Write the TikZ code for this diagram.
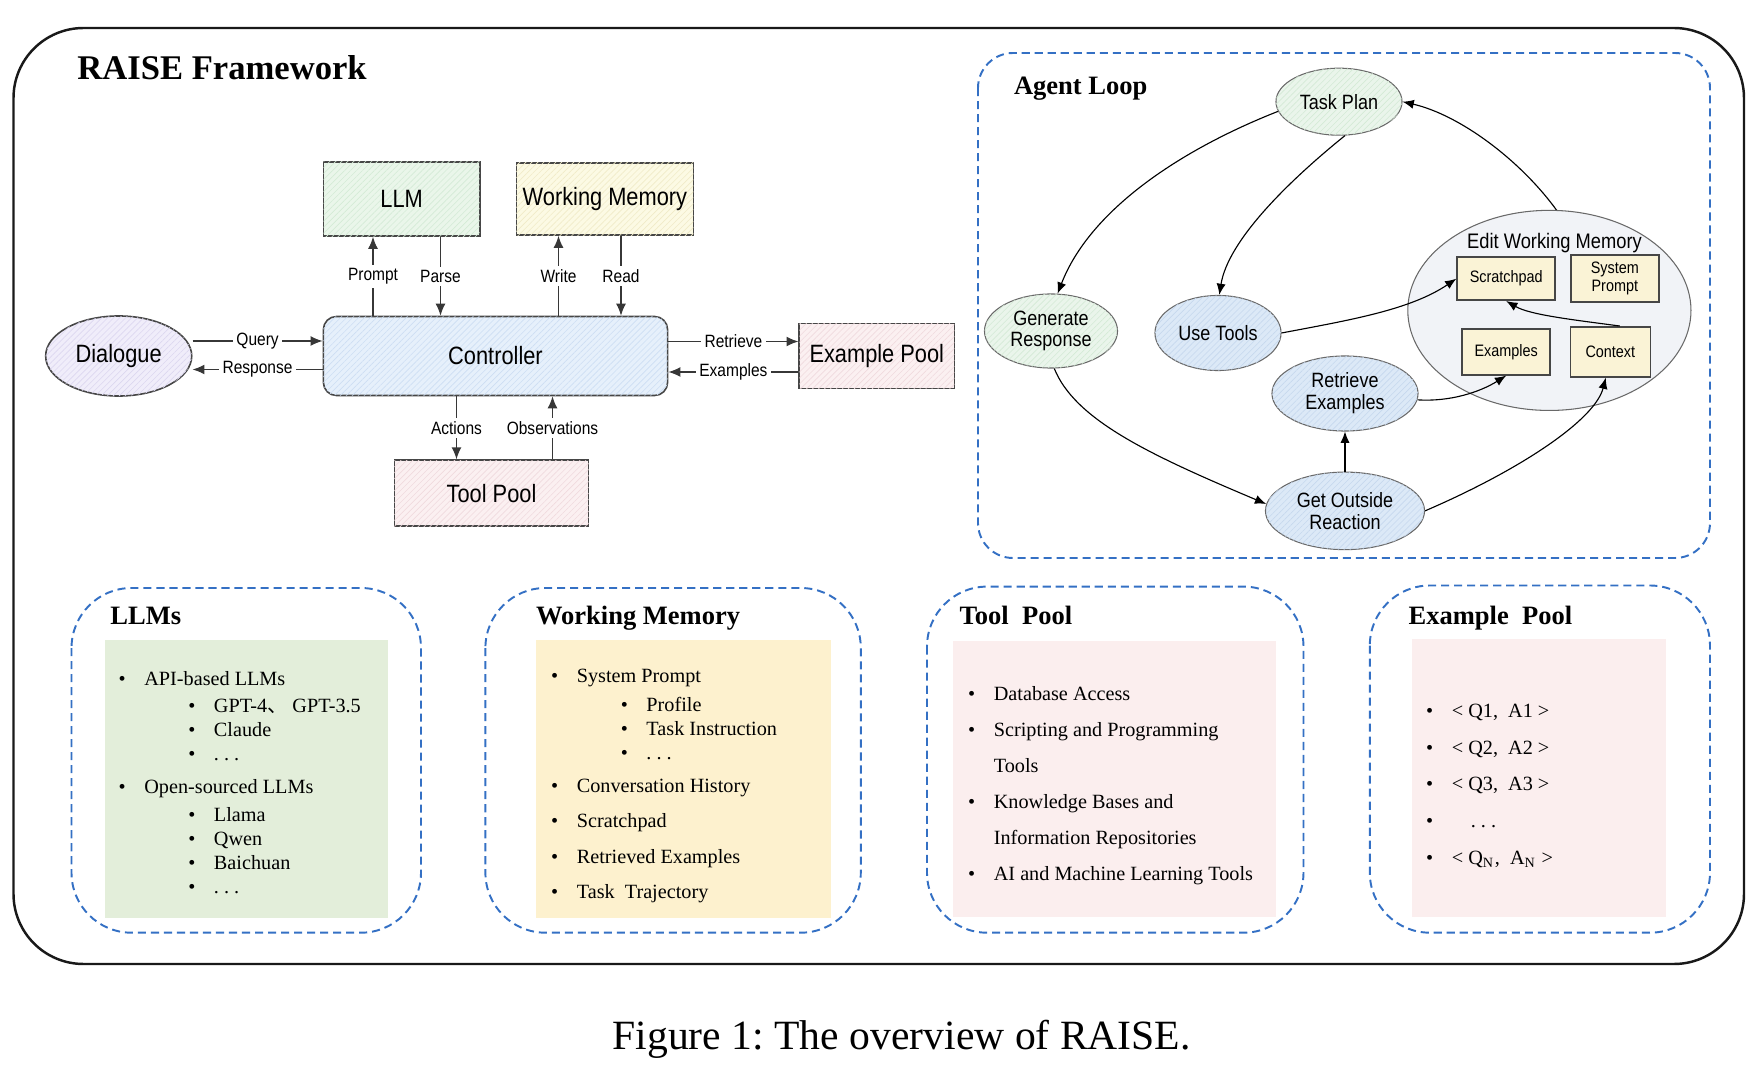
\documentclass[tikz,border=0pt]{standalone}
\usepackage{fontspec}
\setmainfont{Liberation Serif}
\setsansfont{Liberation Sans}[FakeStretch=0.87]
\newfontfamily\cjk{Noto Sans CJK SC}
\usepackage{tikz}
\usetikzlibrary{shapes.geometric, positioning, arrows.meta, patterns.meta}

\definecolor{dashblue}{RGB}{52,112,196}
\definecolor{boxline}{RGB}{70,70,70}
\definecolor{flowline}{RGB}{55,55,55}
\definecolor{llmfill}{RGB}{234,246,234}
\definecolor{llmhatch}{RGB}{212,235,214}
\definecolor{wmfill}{RGB}{252,250,228}
\definecolor{wmhatch}{RGB}{240,235,200}
\definecolor{ctrlfill}{RGB}{230,240,251}
\definecolor{ctrlhatch}{RGB}{205,222,243}
\definecolor{dlgfill}{RGB}{240,237,250}
\definecolor{dlghatch}{RGB}{220,215,240}
\definecolor{poolfill}{RGB}{251,240,241}
\definecolor{poolhatch}{RGB}{240,218,222}
\definecolor{greenfill}{RGB}{234,245,235}
\definecolor{greenhatch}{RGB}{212,234,214}
\definecolor{bluefill}{RGB}{220,233,247}
\definecolor{bluehatch}{RGB}{198,216,238}
\definecolor{loopline}{RGB}{105,105,105}
\definecolor{ewmfill}{RGB}{241,243,247}
\definecolor{cellfill}{RGB}{250,243,214}
\definecolor{cellline}{RGB}{70,70,70}
\definecolor{llmsbg}{RGB}{227,238,218}
\definecolor{wmbg}{RGB}{253,241,206}
\definecolor{poolbg}{RGB}{251,238,238}

\newcommand{\bitem}{\makebox[7.3pt][l]{\textbullet}}
\newcommand{\sitem}{\hspace*{19.8pt}\bitem}
\frenchspacing

\begin{document}
\begin{tikzpicture}[
        x=0.01cm, y=-0.01cm,
        every node/.style={align=center},
        box/.style={rectangle, draw=boxline, line width=0.45pt, inner sep=0pt, font=\sffamily\fontsize{7.13pt}{8.5pt}\selectfont},
        hatch/.style={postaction={pattern={Lines[angle=45, distance=1.2pt, line width=0.18pt]}, pattern color=#1}},
        tag/.style={fill=white, inner sep=1pt, font=\sffamily\fontsize{5.07pt}{6pt}\selectfont},
        flow/.style={-{Latex[length=3.4pt, width=2.8pt]}, line width=0.35pt, draw=flowline},
        loopnode/.style={ellipse, draw=loopline, line width=0.3pt, inner sep=0pt, font=\sffamily\fontsize{5.89pt}{6.2pt}\selectfont},
        memcell/.style={rectangle, draw=cellline, fill=cellfill, line width=0.45pt, inner sep=0pt, font=\sffamily\fontsize{4.71pt}{5pt}\selectfont},
        loopflow/.style={-{Latex[length=3.2pt, width=2.6pt]}, line width=0.32pt},
        panel/.style={draw=dashblue, line width=0.55pt, dash pattern=on 2.3pt off 1.4pt, rounded corners=0.6cm},
        paneltitle/.style={font=\bfseries\fontsize{7.54pt}{9pt}\selectfont, anchor=base west, inner sep=0pt},
        itemlist/.style={align=left, anchor=north west, inner sep=0pt},
        frame/.style={line width=0.7pt, draw=black!90, rounded corners=0.7cm}
    ]
    \useasboundingbox (0,0) rectangle (1762,1088);
%
    % Outer frame and title
    \draw[frame] (13.5,28) rectangle (1744,964);
    \node[font=\bfseries\fontsize{9.84pt}{12pt}\selectfont, anchor=base west, inner sep=0pt] (title) at (76.7,79.3) {RAISE Framework};
%
    % Controller and its neighbours
    \node[box, fill=ctrlfill, hatch=ctrlhatch, rounded corners=0.13cm, minimum width=3.44cm, minimum height=0.79cm] (ctrl) at (495.5,356) {Controller};
    \node[box, fill=llmfill, hatch=llmhatch, minimum width=1.56cm, minimum height=0.74cm] (llm) at (401.7,199) {LLM};
    \node[box, fill=wmfill, hatch=wmhatch, minimum width=1.77cm, minimum height=0.72cm, right=0.35cm of llm] (wm) {Working Memory};
    \node[box, ellipse, fill=dlgfill, hatch=dlghatch, minimum width=1.46cm, minimum height=0.8cm, left=1.3cm of ctrl] (dlg) {Dialogue};
    \node[box, fill=poolfill, hatch=poolhatch, minimum width=1.55cm, minimum height=0.65cm, right=1.3cm of ctrl] (expool) {Example Pool};
    \node[box, fill=poolfill, hatch=poolhatch, minimum width=1.94cm, minimum height=0.66cm, below=0.63cm of ctrl, xshift=-0.04cm] (tlpool) {Tool Pool};
%
    % Links to the controller
    \draw[flow] (373,0 |- ctrl.north) -- node[tag]{Prompt} (373,0 |- llm.south);
    \draw[flow] (440.5,0 |- llm.south) -- node[tag]{Parse} (440.5,0 |- ctrl.north);
    \draw[flow] (558.5,0 |- ctrl.north) -- node[tag]{Write} (558.5,0 |- wm.south);
    \draw[flow] (621,0 |- wm.south) -- node[tag]{Read} (621,0 |- ctrl.north);
    \draw[flow] (dlg.east |- 0,341) -- node[tag]{Query} (ctrl.west |- 0,341);
    \draw[flow] (ctrl.west |- 0,369.5) -- node[tag]{Response} (dlg.east |- 0,369.5);
    \draw[flow] (ctrl.east |- 0,341.5) -- node[tag]{Retrieve} (expool.west |- 0,341.5);
    \draw[flow] (expool.west |- 0,372) -- node[tag]{Examples} (ctrl.east |- 0,372);
    \draw[flow] (456.5,0 |- ctrl.south) -- node[tag]{Actions} (456.5,0 |- tlpool.north);
    \draw[flow] (552.5,0 |- tlpool.north) -- node[tag]{Observations} (552.5,0 |- ctrl.south);
%
    % Agent loop
    \draw[panel, rounded corners=0.35cm] (978,53) rectangle (1710,558);
    \node[paneltitle] (looptitle) at (1013.3,95) {Agent Loop};
    \node[loopnode, fill=greenfill, hatch=greenhatch, minimum width=1.26cm, minimum height=0.67cm] (tp) at (1339,101.7) {Task Plan};
    \node[loopnode, fill=greenfill, hatch=greenhatch, minimum width=1.33cm, minimum height=0.74cm] (gr) at (1051,331) {Generate\\Response};
    \node[loopnode, fill=bluefill, hatch=bluehatch, minimum width=1.26cm, minimum height=0.75cm] (ut) at (1218,333) {Use Tools};
    \node[loopnode, fill=bluefill, hatch=bluehatch, minimum width=1.46cm, minimum height=0.75cm] (re) at (1345,393.5) {Retrieve\\Examples};
    \node[loopnode, fill=bluefill, hatch=bluehatch, minimum width=1.59cm, minimum height=0.775cm, below=0.4cm of re] (gor) {Get Outside\\Reaction};
%
    % Edit working memory
    \node[ellipse, draw=loopline, fill=ewmfill, line width=0.3pt, minimum width=2.83cm, minimum height=2.0cm] (editmem) at (1549.4,310.4) {};
    \node[font=\sffamily\fontsize{5.98pt}{7pt}\selectfont, inner sep=0pt] (editlabel) at (1554.5,243.4) {Edit Working Memory};
    \node[memcell, minimum width=0.98cm, minimum height=0.43cm] (scratch) at (1506.2,278.7) {Scratchpad};
    \node[memcell, minimum width=0.88cm, minimum height=0.47cm, right=0.14cm of scratch] (sysprompt) {System\\Prompt};
    \node[memcell, minimum width=0.88cm, minimum height=0.46cm, below=0.27cm of scratch] (exmem) {Examples};
    \node[memcell, minimum width=0.8cm, minimum height=0.5cm, right=0.185cm of exmem] (context) {Context};
%
    % Loop arrows
    \draw[loopflow] (tp.189) .. controls (1180,150) and (1090,210) .. (gr.80);
    \draw[loopflow] (tp.-80) .. controls (1290,180) and (1228,240) .. (ut.88);
    \draw[loopflow] (editmem.86) .. controls (1520,160) and (1460,115) .. (tp.east);
    \draw[loopflow] (ut.east) .. controls (1350,320) and (1410,310) .. (scratch.west);
    \draw[loopflow] (context.70) .. controls (1575,320) and (1530,315) .. (scratch.south);
    \draw[loopflow] (re.-5) .. controls (1450,402) and (1480,392) .. (exmem.south);
    \draw[loopflow] (gor.east) .. controls (1520,470) and (1595,420) .. (context.-100);
    \draw[loopflow] (gor.north) -- (re.south);
    \draw[loopflow] (gr.-85) .. controls (1075,420) and (1150,455) .. (gor.175);
%
    % Panel: LLMs
    \draw[panel] (71.5,588) rectangle (421,932.7);
    \fill[llmsbg] (104.5,640) rectangle (388,918);
    \node[paneltitle] (llmstitle) at (109.7,624.6) {LLMs};
    \node[itemlist, font=\fontsize{5.75pt}{6.83pt}\selectfont] (llmlist) at (118,671.2) {%
        \bitem API-based LLMs\\[0.85pt]
        \sitem GPT-4{\cjk 、} GPT-3.5\\
        \sitem Claude\\
        \sitem . . .\\[2.56pt]
        \bitem Open-sourced LLMs\\[0.85pt]
        \sitem Llama\\
        \sitem Qwen\\
        \sitem Baichuan\\
        \sitem . . .};
%
    % Panel: Working Memory
    \draw[panel] (485.4,588) rectangle (860.8,932.7);
    \fill[wmbg] (536.4,640) rectangle (830.7,918);
    \node[paneltitle] (wmtitle) at (535.4,625) {Working Memory};
    \node[itemlist, font=\fontsize{5.75pt}{6.83pt}\selectfont] (wmlist) at (550.5,668.9) {%
        \bitem System Prompt\\[1.14pt]
        \sitem Profile\\
        \sitem Task Instruction\\
        \sitem . . .\\[2.73pt]
        \bitem Conversation History\\[3.2pt]
        \bitem Scratchpad\\[3.2pt]
        \bitem Retrieved Examples\\[3.2pt]
        \bitem Task~~Trajectory};
%
    % Panel: Tool Pool
    \draw[panel] (927,586.6) rectangle (1303.5,932.7);
    \fill[poolbg] (952.5,641) rectangle (1276,917.3);
    \node[paneltitle] (tooltitle) at (959,624.6) {Tool~~Pool};
    \node[itemlist, font=\fontsize{5.75pt}{10.24pt}\selectfont] (toollist) at (967.5,686.2) {%
        \bitem Database Access\\
        \bitem Scripting and Programming\\
        \hspace*{7.3pt}Tools\\
        \bitem Knowledge Bases and\\
        \hspace*{7.3pt}Information Repositories\\
        \bitem AI and Machine Learning Tools};
%
    % Panel: Example Pool
    \draw[panel] (1369.8,585.5) rectangle (1710,932.7);
    \fill[poolbg] (1412,639.4) rectangle (1666,917);
    \node[paneltitle] (extitle) at (1408,624.6) {Example~~Pool};
    \node[itemlist, font=\fontsize{5.75pt}{10.38pt}\selectfont] (exlist) at (1425.5,703.9) {%
        \bitem < Q1,~~A1 >\\
        \bitem < Q2,~~A2 >\\
        \bitem < Q3,~~A3 >\\
        \bitem\hspace*{5.4pt}. . .\\
        \bitem < Q\textsubscript{N},~~A\textsubscript{N} >};
%
    % Caption
    \node[font=\fontsize{11.84pt}{14pt}\selectfont, anchor=base] (caption) at (901.7,1050) {Figure 1: The overview of RAISE.};
%
\end{tikzpicture}
\end{document}
